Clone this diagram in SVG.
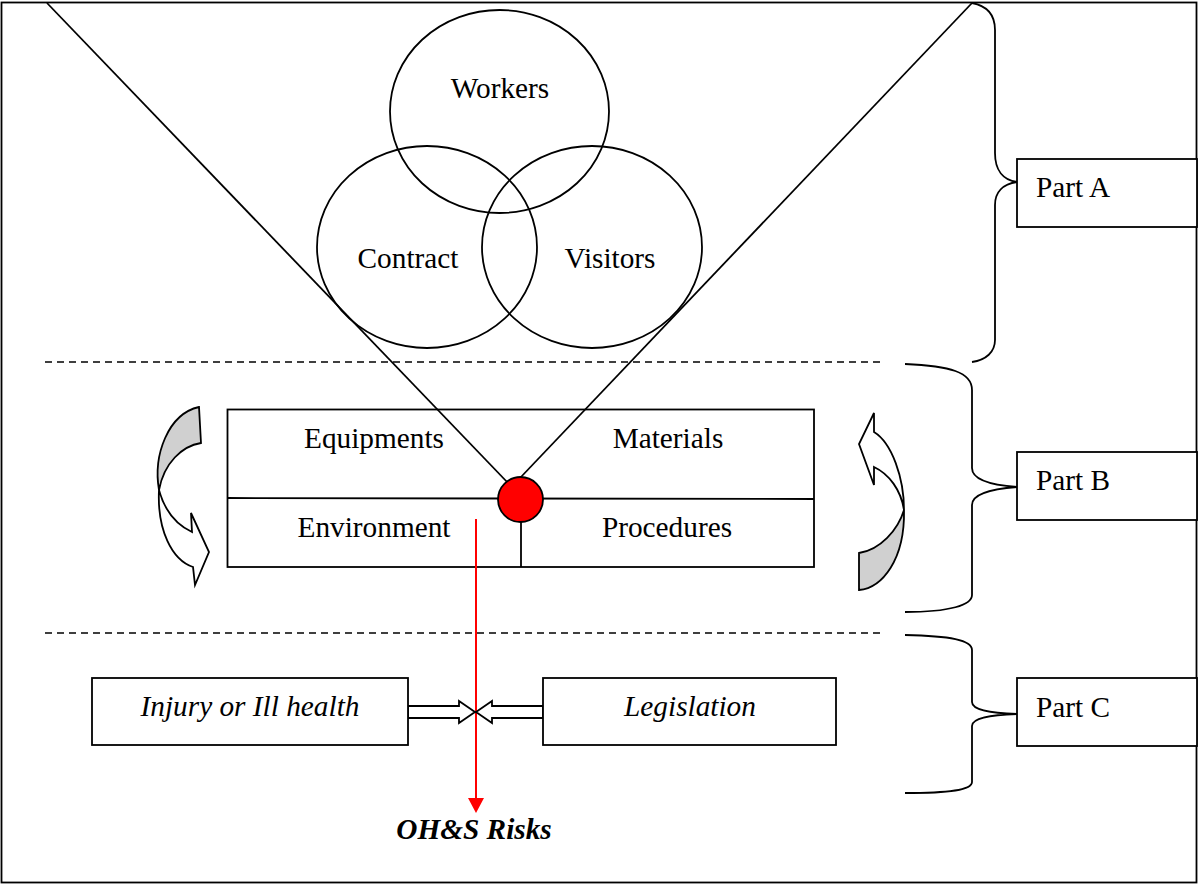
<svg xmlns="http://www.w3.org/2000/svg" width="1199" height="884" viewBox="0 0 1199 884">
<style>
.ln{fill:none;stroke:#000;stroke-width:1.8}
.bx{fill:#fff;stroke:#000;stroke-width:1.8}
.t{font-family:"Liberation Serif","Times New Roman",serif;font-size:29.3px;fill:#000;text-anchor:middle}
.ts{font-family:"Liberation Serif","Times New Roman",serif;font-size:29.3px;fill:#000}
.it{font-style:italic}
.dash{fill:none;stroke:#000;stroke-width:1.5;stroke-dasharray:7,5}
</style>
<rect x="0" y="0" width="1199" height="884" fill="#fff"/>
<rect id="frame" x="1.5" y="2.5" width="1195" height="880" class="ln" stroke-width="2.2"/>

<g id="dashes">
<line x1="45" y1="362" x2="883" y2="362" class="dash"/>
<line x1="45" y1="633" x2="883" y2="633" class="dash"/>
</g>

<g id="venn">
<g id="workers"><ellipse cx="499.5" cy="111.5" rx="109.5" ry="101.5" class="ln"/><text x="500" y="98" class="t">Workers</text></g>
<g id="contract"><ellipse cx="427" cy="247" rx="110" ry="101" class="ln"/><text x="408" y="268" class="t">Contract</text></g>
<g id="visitors"><ellipse cx="592" cy="247" rx="110" ry="101" class="ln"/><text x="610" y="268" class="t">Visitors</text></g>
</g>

<g id="factors">
<rect x="227.5" y="409.5" width="586.5" height="157.5" class="bx"/>
<line x1="227.5" y1="498" x2="814" y2="499" class="ln"/>
<line x1="521" y1="499" x2="521" y2="567" class="ln"/>
<text x="374" y="448" class="t">Equipments</text>
<text x="668" y="448" class="t">Materials</text>
<text x="374" y="537" class="t">Environment</text>
<text x="667" y="537" class="t">Procedures</text>
</g>

<g id="connectors">
<line x1="47" y1="3" x2="509" y2="484" class="ln"/>
<line x1="972" y1="3" x2="520" y2="478" class="ln"/>
<line x1="476" y1="519" x2="476" y2="800" stroke="#f00" stroke-width="2"/>
<polygon points="468,798 484,798 476,813" fill="#f00"/>
<path d="M408,706 L459,706 L459,701 L475,712 L459,723 L459,718 L408,718 Z" class="bx"/>
<path d="M543,706 L492,706 L492,701 L476,712 L492,723 L492,718 L543,718 Z" class="bx"/>
</g>

<g id="hazard">
<circle cx="520.5" cy="499.5" r="22.5" fill="#f00" stroke="#000" stroke-width="1.8"/>
</g>

<g id="cycle-left">
<path d="M199,407 L201,443 C182,446 164,463 159,490 C153,455 168,414 199,407 Z" fill="#d0d0d0" stroke="#000" stroke-width="1.8"/>
<path d="M159,490 C165,512 177,525 192,532 L191,513 L209,552 L195,585 L193,567 C172,560 157,530 159,490 Z" class="bx"/>
</g>

<g id="cycle-right">
<path d="M859,553 L859,590 C882,588 905,560 904,510 C898,530 880,550 859,553 Z" fill="#d0d0d0" stroke="#000" stroke-width="1.8"/>
<path d="M904,510 C904,478 892,443 874,432 L874,413 L859,444 L874,485 L874,467 C889,474 901,490 904,510 Z" class="bx"/>
</g>

<g id="braces">
<path d="M972,3 C988,6 995,15 995,30 L995,153 C995,170 1003,180 1017,182 C1003,184 995,192 995,205 L995,340 C995,352 986,360 972,362" class="ln"/>
<path d="M905,364 C950,366 972,372 972,390 L972,468 C972,480 990,485 1017,487 C990,489 972,494 972,505 L972,595 C972,605 950,612 905,612" class="ln"/>
<path d="M905,635 C950,636 972,640 972,650 L972,702 C972,710 990,713 1017,714 C990,715 972,718 972,726 L972,782 C972,790 950,793 905,793" class="ln"/>
</g>

<g id="partA"><rect x="1017" y="159" width="180" height="68" class="bx"/><text x="1036" y="197" class="ts">Part A</text></g>
<g id="partB"><rect x="1017" y="452" width="180" height="68" class="bx"/><text x="1036" y="490" class="ts">Part B</text></g>
<g id="partC"><rect x="1017" y="678" width="180" height="68" class="bx"/><text x="1036" y="717" class="ts">Part C</text></g>

<g id="injury"><rect x="92" y="678" width="316" height="67" class="bx"/><text x="250" y="716" class="t it">Injury or Ill health</text></g>
<g id="legislation"><rect x="543" y="678" width="293" height="67" class="bx"/><text x="690" y="716" class="t it">Legislation</text></g>

<g id="risks"><text x="474" y="839" class="t it" font-weight="bold">OH&amp;S Risks</text></g>
</svg>
